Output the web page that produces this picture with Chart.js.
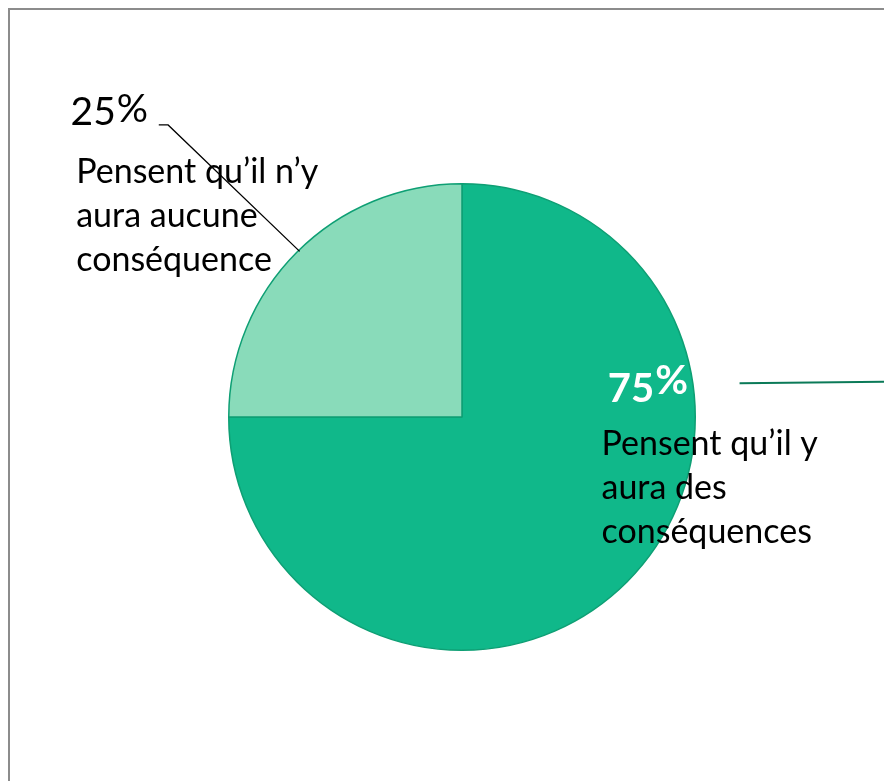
<!DOCTYPE html>
<html>
<head>
<meta charset="utf-8">
<script src="https://cdn.jsdelivr.net/npm/chart.js@4"></script>
<style>
  html, body { margin: 0; padding: 0; background: #fff; overflow: hidden; }
  #wrap { position: relative; width: 884px; height: 781px; }
  #frame { position: absolute; left: 8px; top: 8px; width: 900px; height: 800px;
           border-left: 2px solid #8c8c8c; border-top: 2px solid #8c8c8c; }
  canvas { position: absolute; left: 0; top: 0; }
</style>
</head>
<body>
<div id="wrap">
  <div id="frame"></div>
  <canvas id="pie" width="884" height="781"></canvas>
</div>
<script>
const categories = ['Pensent qu’il y aura des conséquences', 'Pensent qu’il n’y aura aucune conséquence'];
const values = [75, 25];
const valueLabels = ['75', '25'];
const textLines = [
  ['Pensent qu’il y', 'aura des', 'conséquences'],
  ['Pensent qu’il n’y', 'aura aucune', 'conséquence']
];
const sliceColors = ['#10b88a', '#89dbba'];

const FONT = 'Lato, "Open Sans", sans-serif';

// number then a raised "%" sign
function drawPct(ctx, num, x, y, font, raise) {
  ctx.font = font;
  ctx.fillText(num, x, y);
  const w = ctx.measureText(num).width;
  ctx.fillText('%', x + w + 1, y - raise);
}

// labels + leader lines, placed relative to the pie centre and radius
const calloutPlugin = {
  id: 'callouts',
  afterDatasetsDraw(chart) {
    const ctx = chart.ctx;
    const arc = chart.getDatasetMeta(0).data[0];
    const cx = arc.x, cy = arc.y, r = arc.outerRadius;
    ctx.save();
    ctx.textBaseline = 'alphabetic';
    ctx.textAlign = 'left';

    // big slice (75%)
    ctx.fillStyle = '#ffffff';
    drawPct(ctx, valueLabels[0], cx + 0.625 * r, cy - 0.065 * r, 'bold 40px ' + FONT, 8);
    ctx.fillStyle = '#000';
    ctx.font = '34px ' + FONT;
    textLines[0].forEach((t, i) => ctx.fillText(t, cx + 0.598 * r, cy + 0.162 * r + i * 44));
    ctx.strokeStyle = '#0b7a58';
    ctx.lineWidth = 2;
    ctx.beginPath();
    ctx.moveTo(cx + 1.19 * r, cy - 0.145 * r);
    ctx.lineTo(cx + 1.9 * r, cy - 0.152 * r);
    ctx.stroke();

    // small slice (25%)
    ctx.fillStyle = '#000';
    drawPct(ctx, valueLabels[1], cx - 1.678 * r, cy - 1.25 * r, '39px ' + FONT, 3);
    ctx.font = '34px ' + FONT;
    textLines[1].forEach((t, i) => ctx.fillText(t, cx - 1.654 * r, cy - 1.005 * r + i * 44));
    ctx.strokeStyle = '#000';
    ctx.lineWidth = 1.3;
    ctx.beginPath();
    ctx.moveTo(cx - 1.3 * r, cy - 1.252 * r);
    ctx.lineTo(cx - 1.26 * r, cy - 1.252 * r);
    ctx.lineTo(cx - 0.696 * r, cy - 0.71 * r);
    ctx.stroke();
    ctx.restore();
  }
};

new Chart(document.getElementById('pie'), {
  type: 'pie',
  data: {
    labels: categories,
    datasets: [{
      data: values,
      backgroundColor: sliceColors,
      borderColor: '#0e9f74',
      borderWidth: 1.5
    }]
  },
  options: {
    responsive: false,
    animation: false,
    layout: { padding: { left: 228, right: 188, top: 183, bottom: 130 } },
    plugins: {
      legend: { display: false },
      tooltip: { enabled: false }
    }
  },
  plugins: [calloutPlugin]
});
</script>
</body>
</html>
